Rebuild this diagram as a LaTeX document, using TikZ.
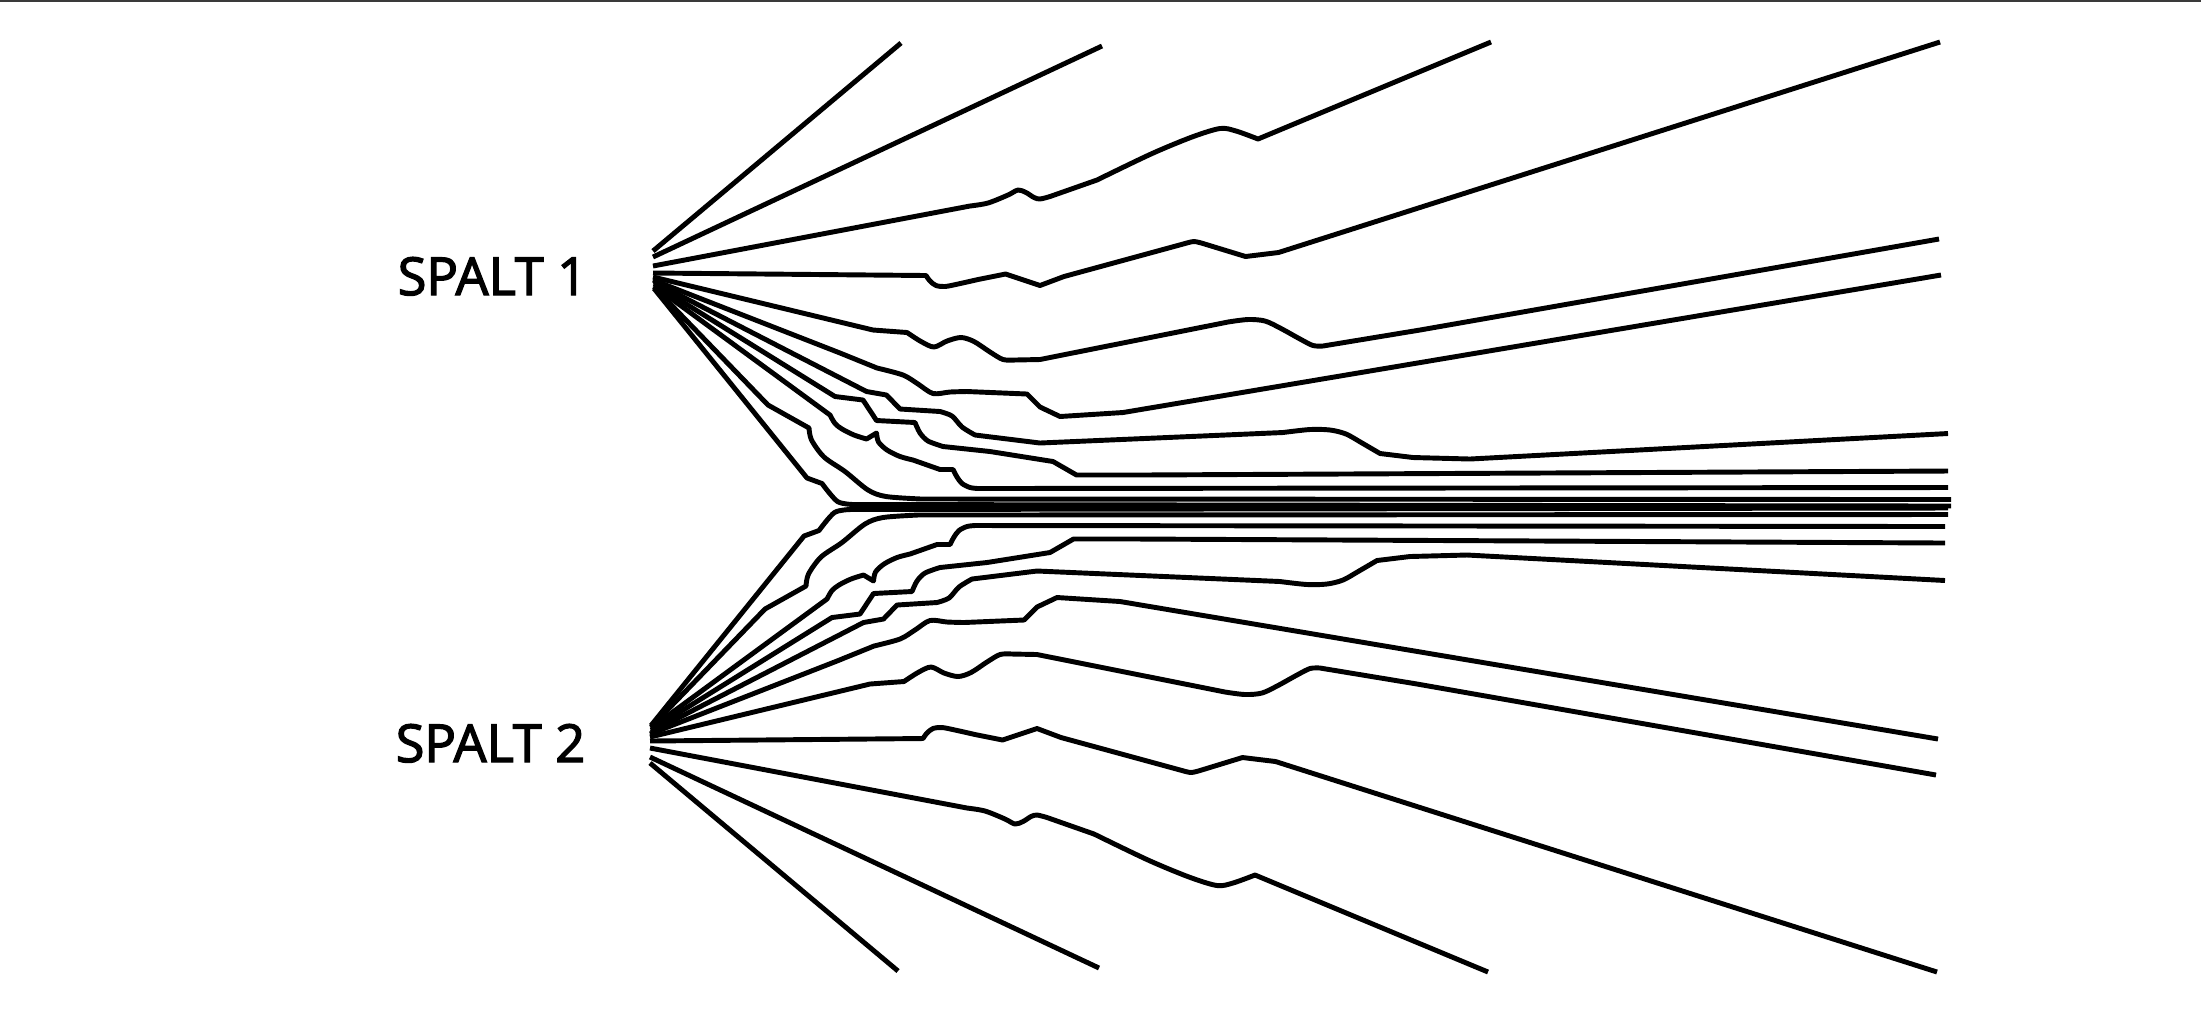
\documentclass[tikz,border=0pt]{standalone}
\usepackage{fontspec}
\setmainfont{Open Sans}[FakeBold=2.5]
\definecolor{rim}{HTML}{3A3A3A}
\tikzset{beam/.style={line width=1.4pt,line join=round},
  spaltlabel/.style={font=\fontsize{14.9}{18}\selectfont,inner sep=0pt,anchor=base west}}

% one half of the fan, drawn again mirrored for the second slit
\newcommand{\beamfan}{%
  \draw[beam] (653,251) -- (901,43);
  \draw[beam] (653,257) -- (1102,46);
  \draw[beam] (653,266) -- (970,206)
    -- plot[smooth] coordinates {(970,206) (988,203) (1008,195) (1018,190) (1026,192.5) (1034,197.5) (1040,199) (1050,196.5)}
    -- (1097,180)
    -- plot[smooth] coordinates {(1097,180) (1151,154) (1192,137) (1220,128.5) (1236,131) (1258,139)}
    -- (1491,42);
  \draw[beam] (653,273) -- (926,275.5)
    -- plot[smooth] coordinates {(926,275.5) (930,281) (936,285.5) (945,286.5) (958,284) (978,279.5)}
    -- (1005.5,274) -- (1040,285.5) -- (1064,276.5) -- (1185,243.5)
    -- plot[smooth] coordinates {(1185,243.5) (1194,241.5) (1203,243.5)}
    -- (1245.5,256.5) -- (1278.5,252.5) -- (1940,42);
  \draw[beam] (653,277) -- (873,330) -- (907,332.5)
    -- plot[smooth] coordinates {(907,332.5) (921,341.5) (934,347) (947,341) (961,337.5) (974,341.5) (990,352) (1003,359.5) (1015,360)}
    -- (1040,359.5) -- (1228,322)
    -- plot[smooth] coordinates {(1228,322) (1248,319.5) (1265,321) (1281,328.5) (1300,339) (1313,345.5) (1323,346)}
    -- (1420,330) -- (1939,239);
  \draw[beam] (653,280) -- (840,353) -- (877,368)
    -- plot[smooth] coordinates {(877,368) (903,375) (918,384) (933,393.5) (950,392) (967,391.5)}
    -- (1027,394) -- (1040,407) -- (1060,416.5) -- (1123,412.5) -- (1941,275);
  \draw[beam] (654,282) -- (866.5,391.5) -- (886.5,395) -- (900,409) -- (940,411.5)
    -- plot[smooth] coordinates {(940,411.5) (952,416) (962,427) (975,435)}
    -- (1040,443) -- (1283,432.5)
    -- plot[smooth] coordinates {(1283,432.5) (1310,429.5) (1330,430) (1346,434) (1362,443) (1380,453.5)}
    -- (1413,457.5) -- (1470,459) -- (1948,433.5);
  \draw[beam] (654,284) -- (835,396.5) -- (863,400) -- (876.5,420.5) -- (915,422.5)
    -- plot[smooth] coordinates {(915,422.5) (920,433) (928,441) (943,446.5)}
    -- (990,451.5) -- (1053,461.5) -- (1076.5,475) -- (1140,475) -- (1948,471);
  \draw[beam] (654,286) -- (830,415)
    -- plot[smooth] coordinates {(830,415) (835,423.5) (842,429) (854,435) (866.5,439)}
    -- (876.5,433)
    -- plot[smooth] coordinates {(876.5,433) (878.5,442) (887,450) (900,456.5) (913,460)}
    -- (940,469.5) -- (953,469.5)
    -- plot[smooth] coordinates {(953,469.5) (957,477) (962,483.5) (970,487.5) (978,488.5)}
    -- (1948,487.5);
  \draw[beam] (654,287) -- (768,405) -- (809,428)
    -- plot[smooth] coordinates {(809,428) (811.5,440) (824,457) (845,471.5) (868,490) (886,496.5) (921,499)}
    -- (1951,499.5);
  \draw[beam] (654,288.5) -- (807,478) -- (822,483.5)
    -- plot[smooth] coordinates {(822,483.5) (837.5,501.5) (854,504.5)}
    -- (1951,506);
}

\begin{document}
\begin{tikzpicture}[x=0.01cm,y=-0.01cm]
  \useasboundingbox (0,0) rectangle (2201,1014);
  \fill[rim] (0,0) rectangle (2201,1.5);

  \node[spaltlabel] (spalt1) at (397,295) {SPALT 1};
  \node[spaltlabel] (spalt2) at (395,762) {SPALT 2};

  \beamfan
  % second slit
  \begin{scope}[shift={(-3,1014)},yscale=-1]
    \beamfan
  \end{scope}
\end{tikzpicture}
\end{document}
